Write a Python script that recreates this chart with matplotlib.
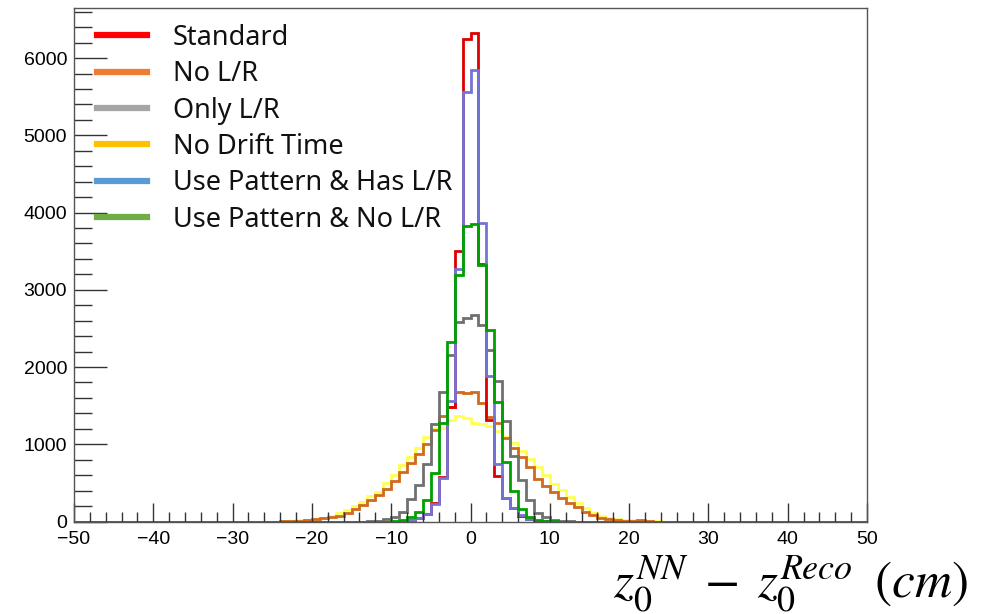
import numpy as np
import matplotlib
matplotlib.use("Agg")
import matplotlib.pyplot as plt
from matplotlib.lines import Line2D
from matplotlib.ticker import MultipleLocator

# bins of 1 cm from -50 to 50; values below are for bins starting at -25 .. 24
# (10 bins per row, everything outside is zero)
lo = -25
standard = [0, 0, 0, 0, 0, 0, 0, 0, 0, 0,
            0, 0, 0, 0, 0, 0, 5, 18, 50, 100,
            240, 580, 1485, 3499, 6251, 6329, 3340, 1313, 593, 310,
            170, 75, 30, 12, 4, 0, 0, 0, 0, 0,
            0, 0, 0, 0, 0, 0, 0, 0, 0, 0]
no_lr = [0, 2, 5, 12, 20, 30, 40, 55, 75, 110,
         160, 215, 275, 340, 420, 530, 640, 760, 870, 1000,
         1180, 1365, 1485, 1679, 1658, 1679, 1537, 1356, 1278, 1076,
         947, 830, 701, 554, 459, 385, 300, 235, 183, 127,
         78, 50, 28, 15, 12, 12, 18, 5, 0, 0]
only_lr = [0, 0, 0, 0, 0, 0, 0, 0, 0, 0,
           0, 0, 5, 12, 30, 60, 127, 295, 475, 745,
           1265, 1680, 2160, 2580, 2629, 2671, 2542, 2215, 1815, 1300,
           850, 537, 278, 116, 54, 25, 10, 5, 0, 0,
           0, 0, 0, 0, 0, 0, 0, 0, 0, 0]
no_drift = [0, 4, 8, 15, 25, 35, 50, 70, 106, 150,
            200, 257, 330, 386, 494, 602, 731, 838, 947, 1097,
            1205, 1210, 1313, 1365, 1343, 1278, 1257, 1240, 1175, 1089,
            1011, 912, 809, 700, 602, 481, 408, 321, 243, 170,
            114, 71, 50, 28, 20, 18, 10, 5, 2, 0]
pat_has_lr = [0, 0, 0, 0, 0, 0, 0, 0, 0, 0,
              0, 0, 0, 0, 0, 0, 5, 15, 45, 95,
              230, 565, 1563, 3275, 5556, 5850, 3866, 1890, 744, 300,
              180, 80, 30, 10, 3, 0, 0, 0, 0, 0,
              0, 0, 0, 0, 0, 0, 0, 0, 0, 0]
pat_no_lr = [0, 0, 0, 0, 0, 0, 0, 0, 0, 0,
             0, 0, 0, 0, 0, 3, 15, 54, 120, 282,
             632, 1270, 2326, 3189, 3823, 3849, 3318, 2477, 1550, 774,
             395, 165, 62, 20, 8, 3, 0, 0, 0, 0,
             0, 0, 0, 0, 0, 0, 0, 0, 0, 0]

labels = ["Standard", "No L/R", "Only L/R", "No Drift Time",
          "Use Pattern & Has L/R", "Use Pattern & No L/R"]

edges = np.arange(-50, 51, 1)


def full(vals):
    h = np.zeros(100)
    h[lo + 50:lo + 50 + len(vals)] = vals
    return h


plt.rcParams['font.family'] = ['Liberation Sans', 'DejaVu Sans']
plt.rcParams['mathtext.fontset'] = 'stix'

fig = plt.figure(figsize=(9.89, 6.14), dpi=100)
ax = fig.add_axes([74 / 989, 1 - 521.5 / 614, 793 / 989, 513.2 / 614])

# draw order: yellow, orange, gray, red, blue, green on top
ax.stairs(full(no_drift), edges, color="#ffff55", lw=2)
ax.stairs(full(no_lr), edges, color="#d2691e", lw=2)
ax.stairs(full(only_lr), edges, color="#707070", lw=2)
ax.stairs(full(standard), edges, color="#dd0000", lw=2)
ax.stairs(full(pat_has_lr), edges, color="#7474d8", lw=2)
ax.stairs(full(pat_no_lr), edges, color="#00a000", lw=2)

ax.set_xlim(-50, 50)
ax.set_ylim(0, 6645)
ax.xaxis.set_major_locator(MultipleLocator(10))
ax.xaxis.set_minor_locator(MultipleLocator(2))
ax.yaxis.set_major_locator(MultipleLocator(1000))
ax.yaxis.set_minor_locator(MultipleLocator(200))
ax.tick_params(which='both', direction='in', top=False, right=False, width=1, color='#333333')
ax.tick_params(axis='y', which='major', length=24, labelsize=14, pad=5)
ax.tick_params(axis='y', which='minor', length=13)
ax.tick_params(axis='x', which='major', length=14, labelsize=14, pad=7)
ax.tick_params(axis='x', which='minor', length=7)
for s in ax.spines.values():
    s.set_color('#555555')
    s.set_linewidth(1)

# legend drawn by hand (pasted style, office colours)
leg_cols = ["#ff0000", "#ed7d31", "#a5a5a5", "#ffc000", "#5b9bd5", "#70ad47"]
for i, (lab, c) in enumerate(zip(labels, leg_cols)):
    y = 1 - (27 + 36.4 * i) / 513.2
    ax.add_line(Line2D([23 / 793, 73 / 793], [y, y], color=c, lw=4.5,
                       transform=ax.transAxes, clip_on=False))
    ax.text(99 / 793, y - 2.5 / 513.2, lab, transform=ax.transAxes, fontsize=19.5,
            family=['Noto Sans', 'DejaVu Sans'], va='center', ha='left', color='#111111')

fig.text(968 / 989, 1 - 598 / 614, r'$z_0^{NN}\;-\;z_0^{Reco}\;\;(cm)$',
         fontsize=37, ha='right', va='baseline')

fig.savefig("out.png", dpi=100)
